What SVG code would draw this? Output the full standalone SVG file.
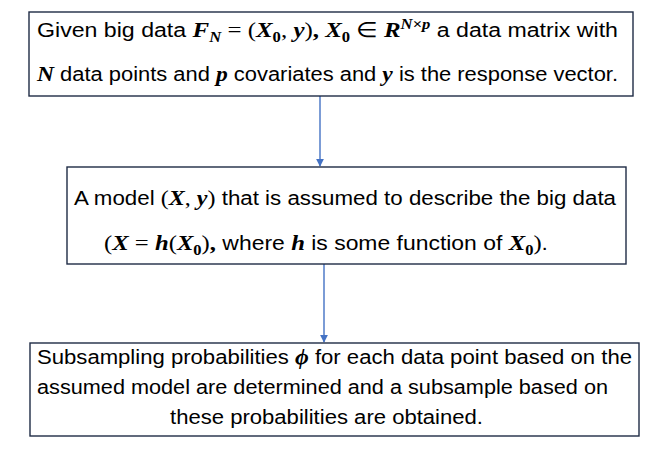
<svg xmlns="http://www.w3.org/2000/svg" width="658" height="452" viewBox="0 0 658 452">
<defs>
<marker id="ah" viewBox="0 0 10 10" refX="9" refY="5" markerWidth="5.5" markerHeight="5.5" orient="auto" markerUnits="strokeWidth">
<path d="M0,0 L10,5 L0,10 z" fill="#4472C4"/>
</marker>
<style>
.box{fill:#fff;stroke:#1F2B45;stroke-width:1.4}
.t{font-family:"Liberation Sans",Arial,sans-serif;font-size:19.5px;fill:#000}
.m{font-family:"Liberation Serif","Times New Roman",serif;font-weight:bold;font-style:italic;font-size:21px}
.r{font-family:"Liberation Serif","Times New Roman",serif;font-size:21px}
.b{font-family:"Liberation Serif","Times New Roman",serif;font-weight:bold;font-style:normal;font-size:21px}
.s{font-size:14px}
.c{stroke:#4472C4;stroke-width:1.4;fill:none}
</style>
</defs>
<rect width="658" height="452" fill="#fff"/>
<g id="connectors">
<line class="c" x1="320" y1="96" x2="320" y2="166" marker-end="url(#ah)"/>
<line class="c" x1="324" y1="264" x2="324" y2="342" marker-end="url(#ah)"/>
</g>
<g id="node1">
<rect class="box" x="29" y="12" width="604" height="84"/>
<text class="t" x="37" y="37" textLength="581" lengthAdjust="spacingAndGlyphs">Given big data <tspan class="m">F</tspan><tspan class="m s" dy="5">N</tspan><tspan class="r" dy="-5"> = (</tspan><tspan class="m">X</tspan><tspan class="b s" dy="5">0</tspan><tspan class="r" dy="-5">, </tspan><tspan class="m">y</tspan><tspan class="r">)</tspan><tspan class="b">, </tspan><tspan class="m">X</tspan><tspan class="b s" dy="5">0</tspan><tspan class="r" dy="-5"> ∈ </tspan><tspan class="m">R</tspan><tspan class="m s" dy="-8">N×p</tspan><tspan dy="8"> a data matrix with</tspan></text>
<text class="t" x="37" y="81" textLength="581" lengthAdjust="spacingAndGlyphs"><tspan class="m">N</tspan> data points and <tspan class="m">p</tspan> covariates and <tspan class="m">y</tspan> is the response vector.</text>
</g>
<g id="node2">
<rect class="box" x="67" y="167" width="559" height="97"/>
<text class="t" x="74" y="205" textLength="542" lengthAdjust="spacingAndGlyphs">A model <tspan class="r">(</tspan><tspan class="m">X</tspan><tspan class="r">, </tspan><tspan class="m">y</tspan><tspan class="r">)</tspan> that is assumed to describe the big data</text>
<text class="t" x="104" y="250" textLength="444" lengthAdjust="spacingAndGlyphs"><tspan class="r">(</tspan><tspan class="m">X</tspan><tspan class="r"> = </tspan><tspan class="m">h</tspan><tspan class="r">(</tspan><tspan class="m">X</tspan><tspan class="b s" dy="5">0</tspan><tspan class="r" dy="-5">)</tspan><tspan class="b">,</tspan> where <tspan class="m">h</tspan> is some function of <tspan class="m">X</tspan><tspan class="b s" dy="5">0</tspan><tspan class="r" dy="-5">)</tspan>.</text>
</g>
<g id="node3">
<rect class="box" x="30" y="343" width="609" height="93"/>
<text class="t" x="37" y="364" textLength="595" lengthAdjust="spacingAndGlyphs">Subsampling probabilities <tspan class="m">ϕ</tspan> for each data point based on the</text>
<text class="t" x="37" y="394" textLength="571" lengthAdjust="spacingAndGlyphs">assumed model are determined and a subsample based on</text>
<text class="t" x="170" y="424" textLength="313" lengthAdjust="spacingAndGlyphs">these probabilities are obtained.</text>
</g>
</svg>
